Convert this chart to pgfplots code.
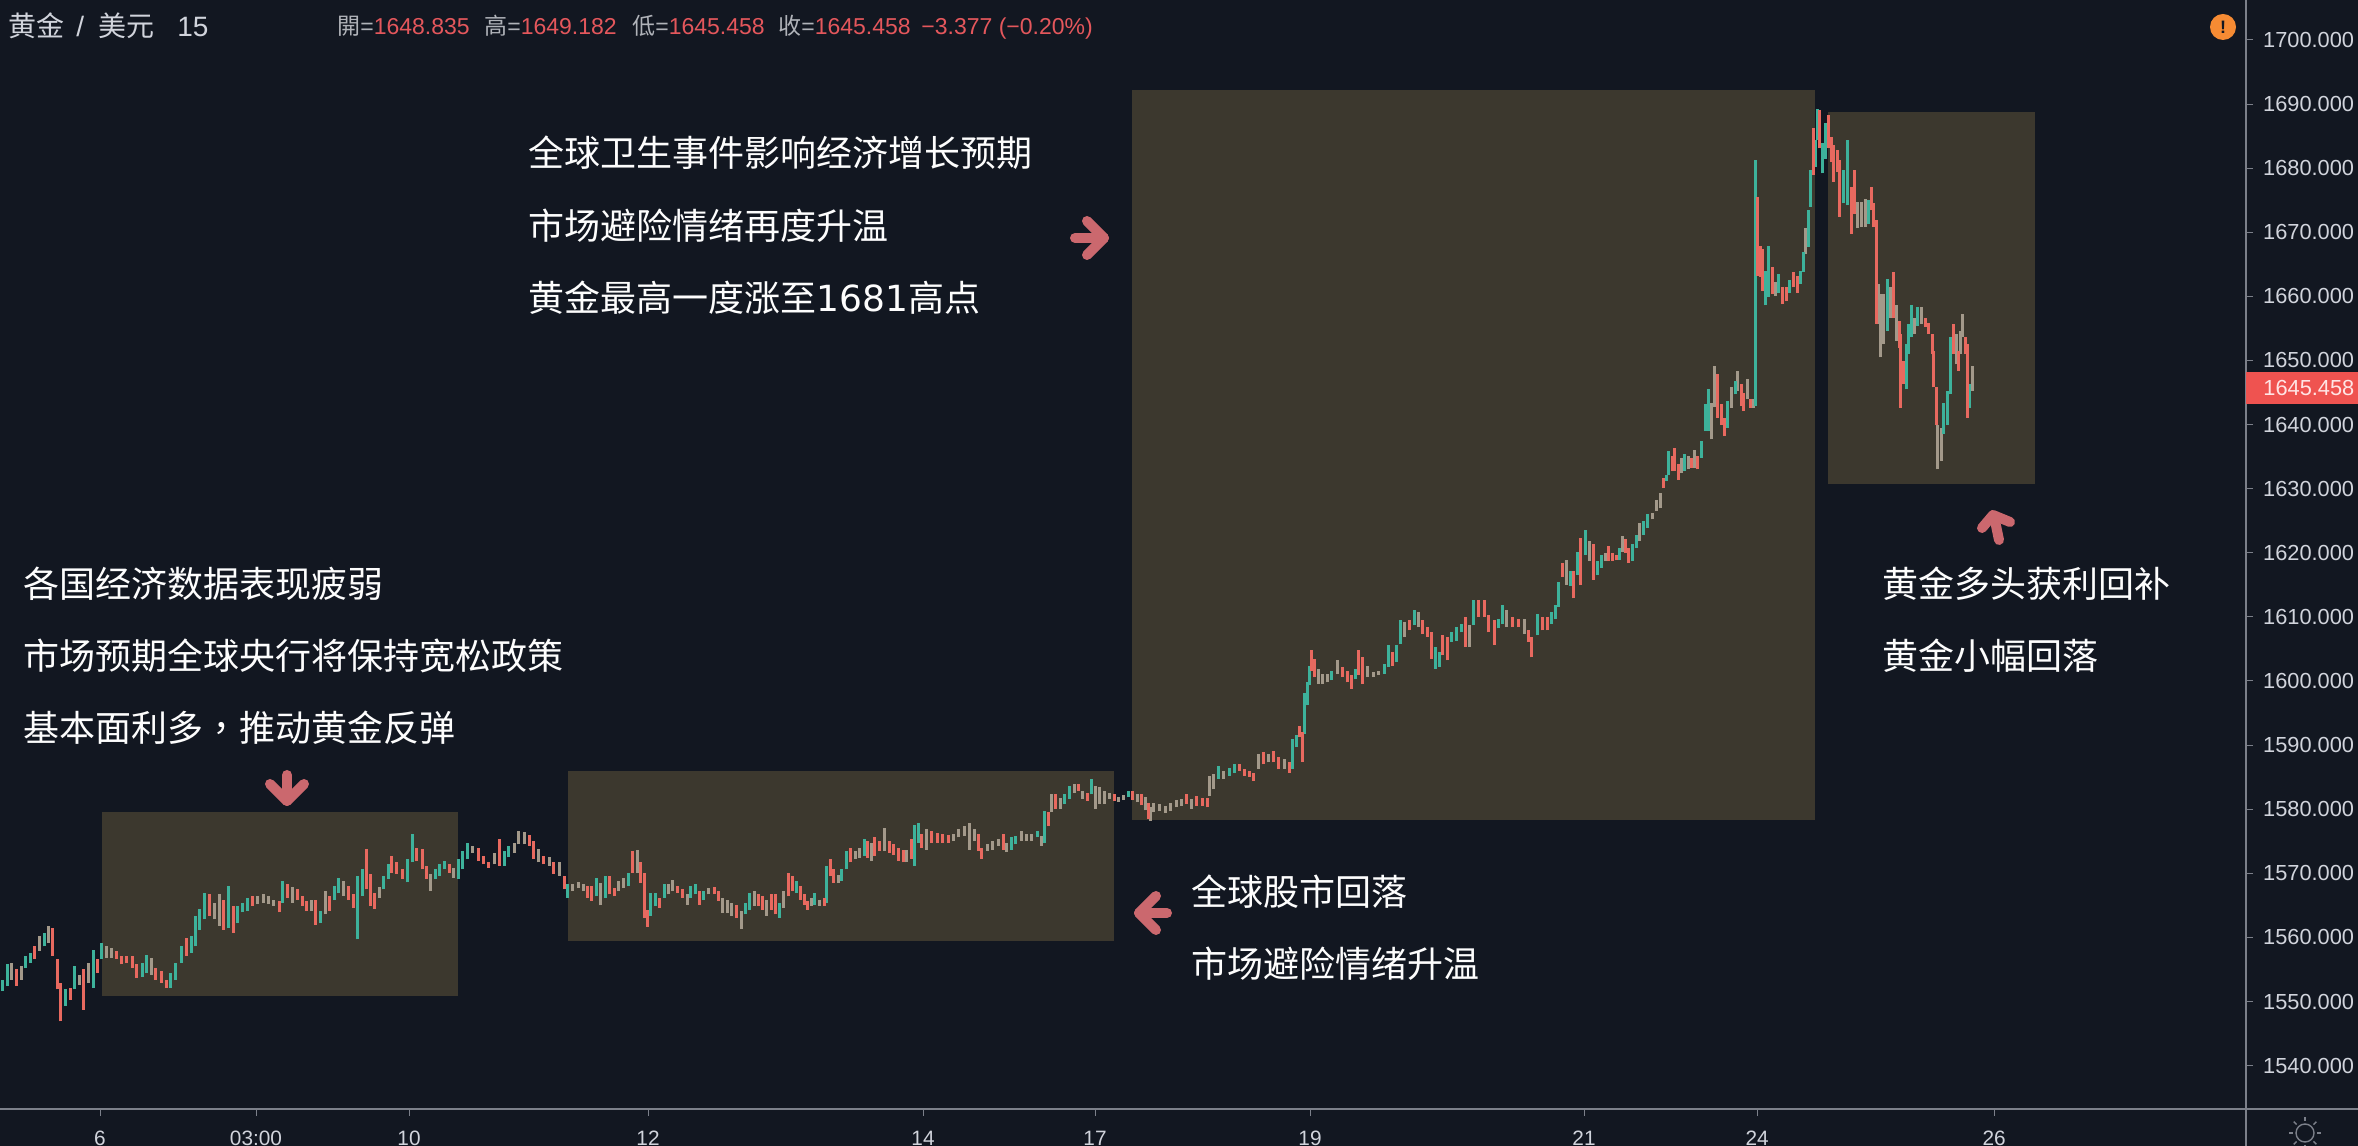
\documentclass[border=0pt]{standalone}
\usepackage{pgfplots}
\usepackage{pgfplotstable}
\usepackage{fontspec}
\pgfplotsset{compat=1.18}
\setmainfont{Liberation Sans}
\newfontfamily\cjk{Noto Sans CJK SC}
\newfontfamily\cjktc{Noto Sans CJK TC}
\newfontfamily\dv{DejaVu Sans}
\definecolor{bg}{HTML}{121721}
\definecolor{boxc}{HTML}{3C382E}
\definecolor{up}{HTML}{3DB29B}
\definecolor{dn}{HTML}{E8695F}
\definecolor{mx}{HTML}{A3998A}
\definecolor{axc}{HTML}{7C808A}
\definecolor{lab}{HTML}{D1D4DC}
\definecolor{arr}{HTML}{CB686E}
\definecolor{rd}{HTML}{E4575C}
\definecolor{tag}{HTML}{EF5350}
\definecolor{warn}{HTML}{F68B33}
\pgfplotstableread{
x l h c
2 1551.6 1553.4 0
7 1552.4 1555.8 0
11 1553.4 1556.0 2
16 1552.4 1555.0 1
21 1553.4 1555.5 2
25 1555.2 1557.1 0
30 1556.0 1557.6 0
34 1556.6 1558.6 1
39 1557.9 1560.2 2
44 1558.6 1560.7 0
48 1559.2 1561.8 2
52 1557.1 1561.5 1
57 1551.9 1556.6 1
60 1546.9 1552.9 1
65 1549.3 1551.9 0
70 1550.3 1552.1 1
74 1551.9 1555.5 0
79 1552.6 1554.2 2
83 1548.7 1555.0 1
88 1552.9 1556.0 2
93 1552.1 1558.1 0
97 1554.5 1556.6 1
101 1556.6 1559.2 0
106 1556.8 1558.6 2
111 1556.8 1558.4 2
116 1556.6 1557.9 1
121 1555.8 1557.1 1
126 1556.0 1557.1 1
132 1555.2 1557.1 1
136 1553.7 1555.8 1
142 1553.9 1556.0 0
146 1554.5 1557.3 0
151 1554.2 1556.8 2
155 1553.4 1555.2 1
161 1552.9 1554.7 1
166 1552.1 1553.4 1
170 1552.1 1554.5 0
175 1553.4 1556.0 0
181 1556.0 1558.6 0
186 1557.1 1559.9 1
191 1557.6 1560.2 0
195 1558.6 1563.3 0
199 1561.2 1564.4 0
204 1562.8 1567.0 0
209 1563.3 1566.7 1
214 1562.8 1565.4 2
219 1561.8 1566.7 2
223 1561.2 1565.9 1
228 1561.5 1568.0 0
233 1560.7 1564.9 1
237 1562.3 1564.9 0
242 1563.9 1565.4 0
247 1564.1 1566.2 0
252 1564.9 1566.5 1
257 1565.2 1566.5 2
263 1565.4 1566.7 2
268 1565.2 1566.5 2
273 1564.9 1565.9 2
279 1563.9 1565.7 1
282 1565.4 1568.8 0
287 1566.2 1568.3 1
292 1565.4 1567.8 2
297 1565.9 1567.5 1
302 1564.9 1566.5 1
306 1564.1 1565.7 1
311 1564.1 1565.9 2
315 1562.0 1565.9 1
320 1562.3 1564.1 0
325 1563.6 1567.2 2
329 1564.1 1566.5 1
334 1565.9 1568.0 0
338 1567.0 1569.3 0
343 1566.5 1568.8 2
348 1565.9 1568.0 1
353 1564.6 1566.7 1
357 1559.7 1569.6 0
362 1566.5 1570.6 0
366 1567.5 1573.8 1
370 1564.9 1569.9 1
374 1564.4 1567.0 1
379 1566.2 1567.8 2
383 1567.5 1569.6 0
388 1569.1 1571.4 0
391 1570.1 1572.7 1
396 1569.9 1571.7 1
402 1569.1 1570.6 1
407 1568.6 1572.2 0
412 1571.7 1576.1 0
416 1571.9 1574.0 1
422 1570.6 1573.8 1
426 1569.1 1571.2 1
430 1567.2 1569.9 2
435 1569.1 1570.6 0
439 1569.6 1571.4 0
444 1570.6 1571.9 0
449 1570.1 1571.4 1
453 1569.3 1570.9 2
458 1569.1 1572.2 0
462 1570.6 1573.5 0
467 1572.2 1574.8 0
472 1573.2 1574.3 2
478 1571.9 1574.0 1
483 1571.4 1572.7 1
488 1570.9 1571.7 1
494 1571.4 1573.2 2
499 1571.2 1575.3 1
504 1571.2 1573.5 0
508 1572.5 1574.3 0
514 1573.2 1574.8 2
518 1574.5 1576.6 2
524 1574.5 1576.4 2
529 1574.3 1575.9 1
533 1572.2 1575.1 1
538 1571.7 1573.8 2
543 1571.4 1572.7 1
549 1571.2 1572.5 2
553 1569.9 1571.7 1
559 1569.6 1571.7 2
564 1567.5 1569.6 1
567 1566.2 1568.3 0
572 1567.2 1568.3 2
578 1567.7 1568.6 2
583 1567.2 1568.3 2
587 1566.2 1568.0 1
591 1565.7 1568.0 1
596 1566.4 1569.3 0
600 1565.0 1568.5 2
605 1566.2 1569.6 0
609 1566.7 1569.6 1
614 1566.4 1567.7 1
618 1567.2 1568.8 2
623 1567.7 1569.3 2
628 1568.0 1570.1 0
632 1570.1 1573.5 1
637 1570.1 1573.6 2
640 1568.5 1571.7 1
644 1563.0 1570.1 1
647 1561.7 1564.3 1
650 1563.3 1566.9 0
655 1564.9 1566.9 0
659 1564.6 1566.2 1
664 1566.2 1568.3 0
668 1566.7 1568.3 2
672 1567.2 1569.0 2
677 1567.0 1568.0 1
682 1566.2 1567.5 1
687 1565.1 1566.7 2
690 1566.2 1568.0 0
695 1566.7 1568.3 0
699 1565.1 1567.2 1
703 1565.9 1567.2 0
708 1566.7 1567.7 2
714 1566.7 1567.9 1
718 1565.7 1567.2 1
722 1563.8 1566.2 2
727 1563.8 1565.9 2
731 1563.3 1565.4 2
736 1563.0 1565.1 1
741 1561.3 1564.1 2
745 1563.6 1565.4 0
749 1564.3 1567.0 0
754 1564.9 1567.2 2
758 1564.9 1566.7 1
762 1564.3 1566.4 1
766 1563.4 1565.9 2
771 1564.3 1566.7 1
775 1563.6 1566.7 1
779 1563.0 1565.4 0
783 1564.6 1567.2 2
788 1566.4 1570.0 1
792 1567.2 1569.6 1
796 1567.0 1568.8 0
800 1565.9 1568.0 1
804 1565.1 1566.7 1
807 1564.3 1565.7 1
811 1564.9 1566.2 2
814 1565.1 1567.0 0
819 1564.9 1565.9 2
824 1564.9 1566.2 1
826 1565.4 1571.1 0
830 1569.6 1572.2 1
833 1568.5 1570.6 1
838 1568.5 1569.8 2
841 1568.8 1570.6 0
846 1570.6 1573.5 0
850 1571.7 1574.0 1
855 1572.2 1573.5 2
859 1572.4 1574.0 2
864 1572.7 1575.3 0
867 1572.4 1575.0 1
871 1571.9 1574.8 2
874 1572.7 1575.6 1
879 1573.5 1575.0 1
884 1573.5 1577.1 2
889 1573.2 1575.0 1
893 1572.9 1574.5 1
898 1571.9 1574.0 1
903 1571.7 1573.7 1
906 1571.7 1573.7 2
911 1572.2 1575.3 1
914 1571.1 1577.6 0
918 1574.8 1577.9 0
921 1574.0 1576.1 1
926 1573.7 1576.9 2
931 1574.8 1576.6 1
937 1574.8 1576.3 1
942 1574.8 1576.1 1
948 1574.8 1575.9 1
953 1575.0 1576.1 2
958 1575.6 1576.9 2
964 1575.8 1577.4 2
969 1573.7 1577.9 2
974 1575.0 1576.9 2
978 1573.5 1576.1 1
981 1572.2 1574.0 1
987 1573.5 1574.5 2
992 1573.7 1575.0 2
998 1574.3 1575.3 2
1003 1573.6 1576.1 1
1006 1573.3 1574.8 2
1011 1573.7 1575.6 0
1015 1574.5 1575.8 0
1021 1575.0 1576.6 2
1026 1575.0 1576.1 2
1031 1575.0 1576.1 2
1037 1575.6 1576.6 0
1041 1574.3 1575.8 2
1044 1574.8 1579.7 0
1048 1577.4 1579.5 1
1051 1579.5 1582.3 2
1055 1580.0 1582.3 1
1060 1580.0 1581.8 2
1064 1580.8 1582.3 0
1069 1581.6 1583.6 0
1074 1582.6 1583.9 2
1078 1582.9 1583.9 1
1082 1581.6 1582.9 2
1087 1581.3 1582.6 1
1091 1582.3 1584.7 0
1095 1580.0 1583.6 2
1099 1580.8 1583.4 2
1104 1580.8 1582.9 2
1109 1581.6 1582.6 2
1114 1581.3 1582.3 1
1118 1581.2 1581.9 2
1123 1581.5 1582.2 2
1128 1581.9 1582.9 0
1132 1581.4 1582.8 1
1137 1581.1 1582.4 2
1141 1580.6 1582.3 1
1145 1579.8 1581.9 2
1148 1578.5 1580.9 1
1150 1578.2 1580.3 2
1153 1579.5 1580.9 2
1159 1579.7 1580.8 2
1165 1579.4 1580.5 2
1170 1579.7 1581.0 2
1176 1580.3 1581.5 2
1181 1580.5 1581.6 2
1186 1580.8 1582.3 1
1191 1580.1 1581.6 2
1196 1580.5 1582.1 1
1202 1580.5 1581.8 1
1207 1580.3 1581.8 1
1209 1582.1 1585.2 2
1213 1583.1 1585.5 2
1218 1584.7 1586.8 0
1223 1584.7 1586.0 2
1229 1585.2 1586.5 0
1234 1585.7 1587.0 0
1239 1586.0 1587.0 1
1244 1585.2 1586.3 1
1249 1585.0 1586.0 1
1253 1584.4 1585.7 1
1258 1586.3 1588.6 2
1263 1587.0 1588.9 1
1268 1587.3 1588.6 2
1273 1587.3 1589.1 1
1278 1586.2 1588.1 1
1284 1586.3 1587.8 2
1289 1585.7 1587.3 1
1292 1586.3 1591.0 0
1296 1589.7 1591.5 0
1299 1591.2 1593.0 1
1302 1587.4 1592.0 1
1304 1591.7 1598.2 0
1307 1596.2 1599.8 0
1309 1599.3 1602.4 0
1311 1601.6 1604.8 1
1314 1600.6 1603.5 1
1318 1599.6 1601.9 2
1322 1599.6 1601.1 2
1327 1599.8 1601.1 2
1331 1600.1 1601.6 0
1337 1601.1 1603.2 2
1342 1600.6 1602.2 1
1347 1599.8 1601.6 1
1351 1598.8 1600.9 1
1355 1600.3 1601.9 0
1358 1600.9 1604.8 1
1362 1599.6 1603.7 1
1367 1600.6 1602.4 2
1373 1600.6 1601.4 2
1378 1600.9 1601.6 2
1384 1601.1 1602.7 0
1388 1602.2 1605.6 0
1392 1602.4 1604.5 1
1396 1603.0 1605.6 0
1400 1605.8 1609.5 0
1404 1606.9 1609.2 2
1409 1607.9 1609.5 1
1414 1608.7 1611.0 0
1418 1608.4 1610.8 2
1422 1607.4 1609.5 1
1427 1606.9 1608.4 1
1431 1603.5 1607.6 1
1435 1601.9 1605.3 0
1439 1602.2 1604.5 0
1442 1604.0 1607.1 1
1447 1603.2 1606.9 1
1451 1606.1 1607.6 0
1456 1606.3 1608.4 0
1461 1607.6 1608.9 0
1465 1605.3 1610.0 1
1469 1605.3 1608.7 2
1473 1608.7 1612.6 0
1478 1610.0 1612.6 1
1484 1610.0 1612.6 1
1488 1607.6 1610.3 1
1494 1605.6 1609.5 1
1498 1608.2 1609.7 0
1502 1608.9 1611.8 0
1506 1608.4 1611.0 2
1512 1608.4 1610.0 1
1518 1608.4 1609.7 1
1524 1607.4 1609.7 2
1528 1606.1 1607.9 1
1531 1603.7 1606.9 1
1537 1607.1 1610.5 0
1542 1607.9 1610.0 1
1547 1607.9 1610.0 1
1551 1608.9 1610.8 0
1555 1609.7 1611.8 0
1558 1611.6 1615.5 0
1562 1616.3 1618.4 1
1566 1615.0 1618.9 2
1570 1614.8 1617.1 0
1573 1612.9 1617.1 1
1577 1616.6 1620.2 0
1580 1615.0 1622.3 1
1585 1619.7 1623.6 0
1589 1618.7 1621.8 2
1593 1615.8 1621.3 1
1597 1616.6 1618.7 0
1601 1617.6 1619.7 0
1605 1618.7 1620.0 2
1608 1618.7 1621.0 1
1612 1618.7 1620.0 1
1616 1618.8 1619.7 1
1619 1618.9 1620.8 0
1622 1620.2 1622.6 2
1625 1620.0 1622.1 1
1628 1618.4 1620.8 1
1632 1618.7 1621.3 0
1636 1620.8 1622.8 0
1639 1621.8 1624.7 2
1643 1622.8 1624.9 0
1647 1623.9 1626.0 0
1652 1625.2 1626.2 2
1656 1626.5 1628.3 2
1660 1627.0 1629.4 2
1663 1630.1 1631.7 1
1666 1631.2 1632.2 0
1668 1632.2 1635.9 0
1672 1632.8 1635.1 1
1674 1632.8 1636.4 1
1678 1631.4 1633.8 1
1681 1632.5 1634.8 2
1684 1632.8 1635.4 0
1688 1633.0 1635.1 2
1691 1633.3 1634.8 1
1694 1633.3 1636.1 2
1697 1633.0 1635.1 1
1701 1634.8 1637.4 0
1705 1639.0 1643.2 0
1708 1639.0 1645.5 0
1711 1637.7 1643.4 2
1714 1642.7 1649.2 2
1717 1641.1 1647.9 1
1721 1640.0 1643.2 1
1724 1638.2 1641.1 1
1727 1639.5 1643.7 0
1731 1642.6 1645.8 2
1735 1644.7 1646.8 0
1737 1645.3 1648.4 2
1741 1642.9 1646.3 1
1743 1642.1 1645.0 1
1747 1644.0 1647.1 2
1750 1642.6 1644.0 1
1753 1642.6 1644.0 2
1755 1642.9 1681.2 0
1757 1663.2 1675.5 1
1760 1663.0 1667.9 1
1762 1660.9 1667.4 1
1765 1658.6 1664.0 0
1768 1659.9 1667.9 0
1772 1660.4 1664.6 1
1775 1660.1 1662.2 2
1778 1660.6 1663.5 0
1782 1658.8 1661.4 1
1786 1659.3 1661.4 1
1789 1660.6 1662.5 0
1793 1661.4 1663.8 1
1797 1660.6 1663.2 1
1800 1661.9 1664.0 0
1803 1663.8 1666.9 0
1805 1666.6 1670.6 2
1808 1667.7 1673.4 0
1810 1674.0 1679.7 0
1813 1678.9 1686.2 1
1815 1680.2 1684.4 0
1817 1684.4 1689.3 0
1819 1683.1 1689.1 1
1822 1679.2 1683.9 0
1825 1681.5 1687.0 0
1828 1683.1 1688.3 1
1831 1681.0 1684.9 1
1833 1677.9 1683.6 1
1837 1679.4 1682.8 1
1839 1672.4 1681.2 1
1843 1674.5 1679.7 0
1847 1674.2 1684.4 0
1851 1669.8 1677.1 1
1854 1672.9 1679.7 1
1857 1670.6 1674.7 2
1861 1670.8 1674.7 2
1865 1670.8 1675.2 2
1868 1671.3 1675.0 0
1871 1673.4 1677.1 1
1873 1670.8 1674.5 1
1876 1655.7 1671.9 1
1878 1655.7 1661.9 2
1880 1650.5 1660.4 2
1883 1652.6 1660.4 2
1887 1654.6 1662.7 0
1890 1656.7 1661.4 2
1893 1656.7 1663.8 1
1896 1653.1 1658.6 2
1899 1652.0 1656.2 1
1900 1642.6 1654.1 1
1903 1646.3 1649.9 1
1906 1645.5 1652.6 0
1908 1651.0 1655.7 0
1911 1653.6 1658.6 0
1914 1654.1 1656.7 2
1917 1655.4 1658.3 0
1921 1655.7 1658.3 2
1925 1655.2 1656.7 1
1928 1654.1 1655.9 1
1932 1651.0 1654.1 1
1933 1645.8 1651.5 1
1936 1640.0 1645.8 1
1937 1633.0 1640.0 2
1941 1634.3 1639.5 2
1943 1638.5 1643.4 0
1947 1640.0 1645.3 0
1950 1644.7 1653.6 0
1953 1651.0 1655.7 1
1956 1649.4 1654.1 2
1958 1648.4 1651.5 1
1960 1651.0 1654.6 2
1962 1653.6 1657.3 2
1965 1651.0 1653.6 1
1967 1641.1 1652.6 1
1969 1642.6 1646.3 0
1972 1645.3 1649.2 2
}\candles
\pgfplotsset{
  candle/.style={draw=none,forget plot,mark=none,
    error bars/.cd,y dir=plus,y explicit,error mark=none,
    error bar style={color=#1,line width=1.5pt,line cap=butt}}
}
\begin{document}
\begin{tikzpicture}
\clip (0,0) rectangle (1179pt,573pt);
\fill[bg] (0,0) rectangle (1179pt,573pt);
\begin{axis}[
  at={(0pt,18.5pt)},anchor=south west,
  scale only axis,width=1123pt,height=554.5pt,
  xmin=0,xmax=2246,ymin=1533.23,ymax=1706.24,
  axis line style={draw=none},
  axis x line*=bottom,axis y line*=right,
  unbounded coords=discard,
  xtick={100,256,409,648,923,1095,1310,1584,1757,1994},
  xticklabels={6,03:00,10,12,14,17,19,21,24,26},
  ytick={1540,1550,...,1700},
  tick align=outside,
  major tick length=3.5pt,
  tick style={axc,line width=0.5pt},
  tick label style={text=lab},
  xticklabel style={yshift=-4pt,font=\fontsize{10.4pt}{12pt}\selectfont},
  yticklabel style={xshift=1.5pt,font=\fontsize{10.9pt}{13pt}\selectfont,
    /pgf/number format/assume math mode=true,
    /pgf/number format/.cd,fixed,fixed zerofill,precision=3,1000 sep={}},
]
% highlighted zones
\addplot[fill=boxc,draw=none,forget plot] coordinates {(102,1550.86) (458,1550.86) (458,1579.56) (102,1579.56)} -- cycle;
\addplot[fill=boxc,draw=none,forget plot] coordinates {(568,1559.44) (1114,1559.44) (1114,1585.96) (568,1585.96)} -- cycle;
\addplot[fill=boxc,draw=none,forget plot] coordinates {(1132,1578.3) (1815,1578.3) (1815,1692.2) (1132,1692.2)} -- cycle;
\addplot[fill=boxc,draw=none,forget plot] coordinates {(1828,1630.73) (2035,1630.73) (2035,1688.77) (1828,1688.77)} -- cycle;
% candles
\addplot[candle=mx] table[x expr={\thisrow{c}==2 ? \thisrow{x} : nan},y=l,y error plus expr=\thisrow{h}-\thisrow{l}] {\candles};
\addplot[candle=up] table[x expr={\thisrow{c}==0 ? \thisrow{x} : nan},y=l,y error plus expr=\thisrow{h}-\thisrow{l}] {\candles};
\addplot[candle=dn] table[x expr={\thisrow{c}==1 ? \thisrow{x} : nan},y=l,y error plus expr=\thisrow{h}-\thisrow{l}] {\candles};
\end{axis}
\begin{scope}[x=0.5pt,y=-0.5pt,shift={(0pt,573pt)}]
  % axis frame lines
  \draw[axc,line width=1pt] (2246,0) -- (2246,1146);
  \draw[axc,line width=1pt] (0,1109) -- (2358,1109);
  % last price tag
  \fill[tag] (2246,372) rectangle (2358,404);
  \node[anchor=west,inner sep=0pt,text=white!90!red,font=\fontsize{10.9pt}{13pt}\selectfont] at (2263,388) {1645.458};
  % warning badge
  \fill[warn] (2223,27) circle (13);
  \node[text=bg,inner sep=0pt,font=\bfseries\fontsize{9pt}{10pt}\selectfont] at (2223,27) {!};
  % sun icon
  \draw[axc,line width=0.7pt] (2305,1133) circle (9);
  \foreach \a in {0,45,...,315} \draw[axc,line width=0.7pt] (2305,1133) ++(\a:12) -- ++(\a:4);
  % header
  \node[anchor=base west,inner sep=0pt,text=lab,font=\cjk\fontsize{14pt}{16pt}\selectfont] at (8,37) {黄金};
  \node[anchor=base west,inner sep=0pt,text=lab,font=\fontsize{14pt}{16pt}\selectfont] at (76,37) {/};
  \node[anchor=base west,inner sep=0pt,text=lab,font=\cjk\fontsize{14pt}{16pt}\selectfont] at (98,37) {美元};
  \node[anchor=base west,inner sep=0pt,text=lab,font=\fontsize{14pt}{16pt}\selectfont] at (177,37) {15};
  \foreach \xa/\xb/\lbl/\val in {337/360/開/1648.835,484/507/高/1649.182,632/655/低/1645.458,778/801/收/1645.458}{
    \node[anchor=base west,inner sep=0pt,text=axc!60!white,font=\cjk\fontsize{11.5pt}{13pt}\selectfont] at (\xa,35) {\lbl};
    \node[anchor=base west,inner sep=0pt,font=\fontsize{11.5pt}{13pt}\selectfont] at (\xb,35) {\textcolor{axc!60!white}{=}\textcolor{rd}{\val}};
  }
  \node[anchor=base west,inner sep=0pt,text=rd,font=\fontsize{11.5pt}{13pt}\selectfont] at (921,35) {−3.377 (−0.20\%)};
  % annotations
  \foreach \tx/\ty/\t in {
    23/584/各国经济数据表现疲弱,
    23/656/市场预期全球央行将保持宽松政策,
    23/728/基本面利多{\cjktc ，}推动黄金反弹,
    528/153/全球卫生事件影响经济增长预期,
    528/226/市场避险情绪再度升温,
    528/298/黄金最高一度涨至{\dv 1681}高点,
    1191/892/全球股市回落,
    1191/964/市场避险情绪升温,
    1882/584/黄金多头获利回补,
    1882/656/黄金小幅回落}{
    \node[anchor=west,inner sep=0pt,text=white!95!lab,font=\cjk\fontsize{18pt}{20pt}\selectfont] at (\tx,\ty) {\t};
  }
  % arrows
  \begin{scope}[arr,line width=5pt,line cap=round,line join=round]
    \draw (287,775) -- (287,801);  \draw (270,784) -- (287,801) -- (304,784);
    \draw (1075,238) -- (1104,238); \draw (1087,221) -- (1104,238) -- (1087,255);
    \draw (1167,913) -- (1139,913); \draw (1156,896) -- (1139,913) -- (1156,930);
    \draw (1999,540) -- (1994,516); \draw (1982,528) -- (1993,515) -- (2010,522);
  \end{scope}
\end{scope}
\end{tikzpicture}
\end{document}
